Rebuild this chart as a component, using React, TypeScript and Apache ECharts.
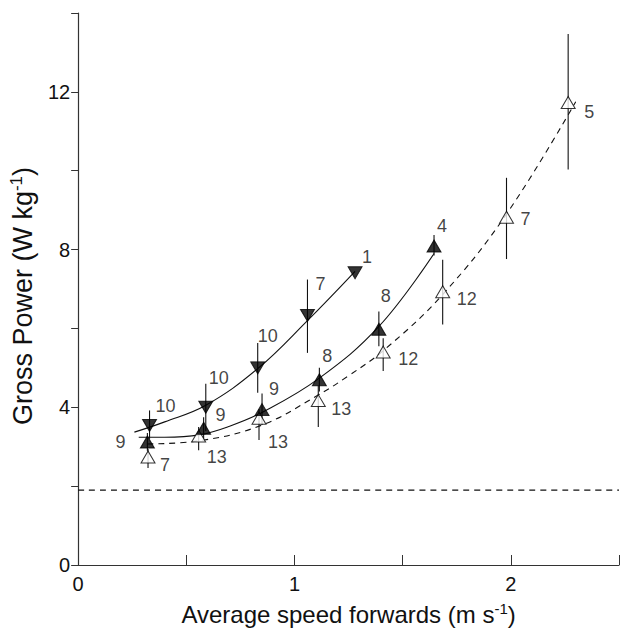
import React, { useEffect, useRef } from "react";
import * as echarts from "echarts";

// ---- data ----
// filled downward triangles (▼)
const downX = [0.33, 0.59, 0.83, 1.06, 1.28];
const downY = [3.54, 4.0, 5.0, 6.33, 7.41];
const downLo = [3.2, 3.4, 4.37, 5.38, 7.41];
const downHi = [3.92, 4.6, 5.63, 7.24, 7.41];
const downN = ["10", "10", "10", "7", "1"];

// filled upward triangles (▲)
const upX = [0.32, 0.58, 0.85, 1.115, 1.39, 1.645];
const upY = [3.12, 3.47, 3.94, 4.7, 5.98, 8.09];
const upLo = [2.9, 3.2, 3.55, 4.4, 5.55, 7.85];
const upHi = [3.35, 3.75, 4.35, 5.0, 6.43, 8.37];
const upN = ["9", "9", "9", "8", "8", "4"];

// open triangles (△)
const openX = [0.323, 0.557, 0.836, 1.11, 1.41, 1.685, 1.98, 2.265];
const openY = [2.74, 3.27, 3.72, 4.17, 5.4, 6.93, 8.82, 11.73];
const openLo = [2.46, 2.91, 3.17, 3.5, 4.92, 6.1, 7.76, 10.03];
const openHi = [2.95, 3.5, 3.95, 4.55, 5.75, 7.74, 9.82, 13.47];
const openN = ["7", "13", "13", "13", "12", "12", "7", "5"];

// fitted curves
const curveDown = [[0.26, 3.37], [0.4, 3.63], [0.59, 4.05], [0.83, 4.98], [1.06, 6.2], [1.28, 7.45]];
const curveUp = [[0.28, 3.24], [0.4, 3.24], [0.56, 3.3], [0.7, 3.52], [0.85, 3.87], [1.11, 4.72], [1.39, 6.05], [1.645, 7.9]];
const curveOpen = [[0.32, 3.07], [0.56, 3.15], [0.85, 3.55], [1.1, 4.28], [1.25, 4.8], [1.42, 5.48], [1.685, 6.86], [1.98, 8.9], [2.3, 11.75]];
const baseline = [[0, 1.9], [2.5, 1.9]];

// label offsets (pixels from marker centre)
const downOff = [[16, -19], [13, -29], [10, -32], [13, -31], [12, -16]];
const upOff = [[-27, 0], [17, -13], [12, -21], [8, -24], [7, -33], [8, -20]];
const openOff = [[17, 8], [18, 21], [19, 24], [23, 8], [25, 7], [24, 7], [19, 2], [21, 9]];

const FONT = "Liberation Sans, Arial, Helvetica, sans-serif";

function errBar(xs: number[], lo: number[], hi: number[]) {
  return {
    type: "custom",
    z: 2,
    silent: true,
    data: xs.map((x, i) => [x, lo[i], hi[i]]),
    encode: { x: 0, y: [1, 2] },
    renderItem: (_p: any, api: any) => {
      const a = api.coord([api.value(0), api.value(1)]);
      const b = api.coord([api.value(0), api.value(2)]);
      return {
        type: "line",
        shape: { x1: a[0], y1: a[1], x2: b[0], y2: b[1] },
        style: { stroke: "#111", lineWidth: 1.1 },
      };
    },
  };
}

function points(xs: number[], ys: number[], ns: string[], offs: number[][], rotate: number, fill: string) {
  return {
    type: "scatter",
    z: 5,
    symbol: "triangle",
    symbolSize: [14, 12],
    symbolRotate: rotate,
    itemStyle: { color: fill, borderColor: "#000", borderWidth: 1 },
    label: {
      show: true,
      position: "inside",
      color: "#111",
      fontSize: 18,
      fontFamily: FONT,
      align: "center",
      verticalAlign: "middle",
    },
    data: xs.map((x, i) => ({
      value: [x, ys[i]],
      label: { offset: offs[i], formatter: ns[i] },
    })),
  };
}

function curve(data: number[][], dashed: boolean) {
  return {
    type: "line",
    z: 3,
    data,
    smooth: 0.4,
    showSymbol: false,
    symbol: "none",
    silent: true,
    lineStyle: { color: "#111", width: 1.1, type: dashed ? [6, 5] : "solid" },
  };
}

export default function App() {
  const ref = useRef<HTMLDivElement>(null);
  useEffect(() => {
    document.body.style.margin = "0";
    const chart = echarts.init(ref.current!, undefined, { renderer: "svg" });
    chart.setOption({
      animation: false,
      backgroundColor: "#fff",
      grid: { left: 69, top: 13, width: 555, height: 558, containLabel: false },
      xAxis: {
        type: "value",
        min: 0,
        max: 2.5,
        interval: 0.5,
        name: "Average speed forwards (m s{sup|-1})",
        nameLocation: "middle",
        nameGap: 36,
        nameTextStyle: {
          fontSize: 24,
          fontFamily: FONT,
          color: "#111",
          lineHeight: 26,
          rich: { sup: { fontSize: 15, lineHeight: 15, verticalAlign: "top", fontFamily: FONT, color: "#111" } },
        },
        axisLine: { show: true, lineStyle: { color: "#333", width: 1.2 } },
        axisTick: { show: true, inside: true, length: 10, lineStyle: { color: "#333" } },
        axisLabel: {
          fontSize: 20,
          fontFamily: FONT,
          color: "#111",
          margin: 9,
          formatter: (v: number) => (Math.abs(v - Math.round(v)) < 1e-9 ? String(Math.round(v)) : ""),
        },
        splitLine: { show: false },
      },
      yAxis: {
        type: "value",
        min: 0,
        max: 14,
        interval: 2,
        name: "Gross Power (W kg{sup|-1})",
        nameLocation: "middle",
        nameRotate: 90,
        nameGap: 32,
        nameTextStyle: {
          fontSize: 27,
          fontFamily: FONT,
          color: "#111",
          lineHeight: 29,
          padding: [0, 14, 0, 0],
          rich: { sup: { fontSize: 17, lineHeight: 17, verticalAlign: "top", fontFamily: FONT, color: "#111" } },
        },
        axisLine: { show: true, lineStyle: { color: "#333", width: 1.2 } },
        axisTick: { show: true, inside: false, length: 7, lineStyle: { color: "#333" } },
        axisLabel: {
          fontSize: 20,
          fontFamily: FONT,
          color: "#111",
          margin: 8,
          formatter: (v: number) => (Math.round(v) % 4 === 0 ? String(Math.round(v)) : ""),
        },
        splitLine: { show: false },
      },
      series: [
        curve(baseline, true),
        curve(curveDown, false),
        curve(curveUp, false),
        curve(curveOpen, true),
        errBar(downX, downLo, downHi),
        errBar(upX, upLo, upHi),
        errBar(openX, openLo, openHi),
        points(openX, openY, openN, openOff, 0, "#fff"),
        points(upX, upY, upN, upOff, 0, "#000"),
        points(downX, downY, downN, downOff, 180, "#000"),
      ],
    });
    return () => chart.dispose();
  }, []);
  return <div ref={ref} style={{ width: 622, height: 632 }} />;
}
